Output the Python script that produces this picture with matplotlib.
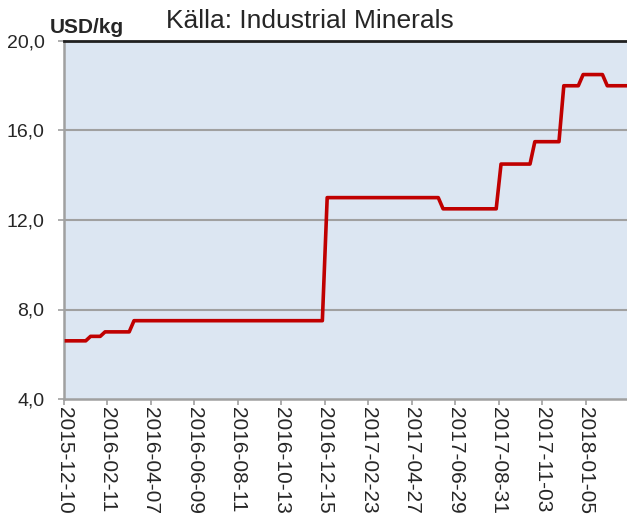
import numpy as np
import matplotlib
matplotlib.use("Agg")
import matplotlib.pyplot as plt

plt.rcParams['font.family'] = ['Liberation Sans', 'DejaVu Sans']

# weekly prices, USD/kg (one value per week)
price = [6.6, 6.6, 6.6, 6.6, 6.6,
         6.8, 6.8, 6.8,
         7.0, 7.0, 7.0, 7.0, 7.0, 7.0,
         7.5, 7.5, 7.5, 7.5, 7.5, 7.5, 7.5, 7.5, 7.5, 7.5,
         7.5, 7.5, 7.5, 7.5, 7.5, 7.5, 7.5, 7.5, 7.5, 7.5,
         7.5, 7.5, 7.5, 7.5, 7.5, 7.5, 7.5, 7.5, 7.5, 7.5,
         7.5, 7.5, 7.5, 7.5, 7.5, 7.5, 7.5, 7.5, 7.5, 7.5,
         13.0, 13.0, 13.0, 13.0, 13.0, 13.0, 13.0, 13.0, 13.0, 13.0, 13.0, 13.0,
         13.0, 13.0, 13.0, 13.0, 13.0, 13.0, 13.0, 13.0, 13.0, 13.0, 13.0, 13.0,
         12.5, 12.5, 12.5, 12.5, 12.5, 12.5, 12.5, 12.5, 12.5, 12.5, 12.5, 12.5,
         14.5, 14.5, 14.5, 14.5, 14.5, 14.5, 14.5,
         15.5, 15.5, 15.5, 15.5, 15.5, 15.5,
         18.0, 18.0, 18.0, 18.0,
         18.5, 18.5, 18.5, 18.5, 18.5,
         18.0, 18.0, 18.0, 18.0, 18.0]

date_labels = ['2015-12-10', '2016-02-11', '2016-04-07', '2016-06-09', '2016-08-11',
               '2016-10-13', '2016-12-15', '2017-02-23', '2017-04-27', '2017-06-29',
               '2017-08-31', '2017-11-03', '2018-01-05']
label_step = 9

y_ticks = [4, 8, 12, 16, 20]
y_labels = ['4,0', '8,0', '12,0', '16,0', '20,0']

W, H = 627, 520
fig = plt.figure(figsize=(W / 100, H / 100), dpi=100)
ax = fig.add_axes([64 / W, (H - 399) / H, 565 / W, 358 / H])
ax.set_facecolor('#dce6f2')

x = np.arange(len(price)) + 0.5
ax.plot(x, price, color='#c00000', lw=2.6, solid_joinstyle='round', zorder=3)

ax.set_xlim(0, len(price))
ax.set_ylim(4, 20)

grey = '#a0a0a0'
ax.set_yticks(y_ticks)
ax.set_yticklabels(y_labels)
ax.set_xticks(np.arange(len(date_labels)) * label_step)
ax.set_xticklabels(date_labels, rotation=270, ha='center', va='top')

ax.tick_params(axis='y', length=4.5, width=1.2, color=grey, pad=9.5,
               labelsize=14, labelcolor='#262626')
ax.tick_params(axis='x', length=4, width=1.2, color=grey, pad=2,
               labelsize=15, labelcolor='#262626')

for v in y_ticks[1:-1]:
    ax.axhline(v, color=grey, lw=1.5, zorder=1)

ax.spines['right'].set_visible(False)
ax.spines['top'].set_color('#202020')
ax.spines['top'].set_linewidth(2)
for s in ['left', 'bottom']:
    ax.spines[s].set_color(grey)
    ax.spines[s].set_linewidth(1.8)

fig.text(50 / W, 1 - 33 / H, 'USD/kg', fontsize=15, fontweight='bold',
         color='#262626', ha='left', va='baseline')
fig.text(166 / W, 1 - 28 / H, 'Källa: Industrial Minerals', fontsize=19,
         color='#262626', ha='left', va='baseline')

fig.savefig('out.png', dpi=100)
